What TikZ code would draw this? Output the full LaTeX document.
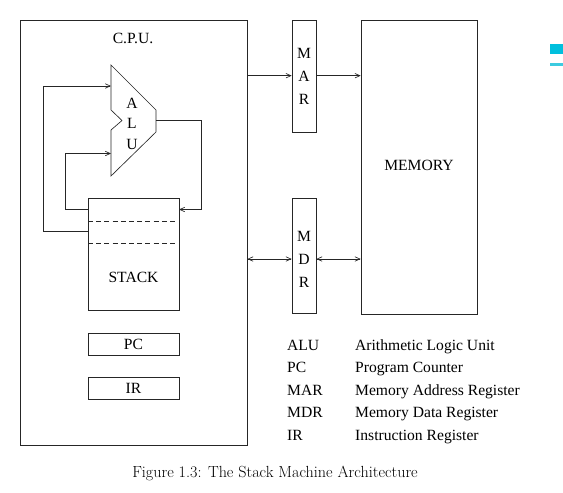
\documentclass[tikz,border=0pt]{standalone}
\usepackage{fontspec}
\setmainfont{Liberation Serif}
\newfontfamily\capfont{Latin Modern Roman}
\usetikzlibrary{arrows.meta}
\definecolor{cyanmark}{HTML}{00BFDD}
\definecolor{cyanline}{HTML}{3CCBE0}
\begin{document}
\begin{tikzpicture}[x=1pt,y=-1pt,
  every node/.style={font=\fontsize{15.6}{18}\selectfont},
  box/.style={draw=black!85,line width=0.65pt,inner sep=0pt,rectangle},
  wire/.style={draw=black!85,line width=0.65pt},
  arr/.style={wire,-{Straight Barb[length=5pt,width=4.5pt]}},
  barr/.style={wire,{Straight Barb[length=5pt,width=4.5pt]}-{Straight Barb[length=5pt,width=4.5pt]}},
  lbl/.style={inner sep=0pt,anchor=base west}]
\useasboundingbox (0,0) rectangle (563,493);
% CPU
\node[box,minimum width=227pt,minimum height=425pt] (cpu) at (133.5,232.5) {};
\node (cpulbl) at (133,38) {C.P.U.};
% ALU
\coordinate (a1) at (111,65);
\coordinate (a2) at (111,110);
\coordinate (a3) at (122,120.5);
\coordinate (a4) at (111,130);
\coordinate (a5) at (111,176);
\coordinate (a6) at (156,132);
\coordinate (a7) at (156,110);
\draw[wire] (a1) -- (a2) -- (a3) -- (a4) -- (a5) -- (a6) -- (a7) -- cycle;
\node (la) at (132,103) {A};
\node (ll) at (132,123) {L};
\node (lu) at (132,144) {U};
\coordinate (ain1) at (111,86);
\coordinate (ain2) at (111,153.5);
\coordinate (aout) at (156,120.5);
% STACK
\node[box,minimum width=91pt,minimum height=112.5pt] (stack) at (133.5,254.5) {};
\draw[wire,dashed,dash pattern=on 5pt off 3.2pt] (88,221.3) -- (175,221.3);
\draw[wire,dashed,dash pattern=on 5pt off 3.2pt] (88,243.3) -- (175,243.3);
\node (stacklbl) at (133.5,277) {STACK};
\coordinate (s1) at (88,231.7);
\coordinate (s2) at (88,209.5);
\coordinate (s3) at (179,209.5);
\draw[arr] (s1) -- (43,231.7) |- (ain1);
\draw[arr] (s2) -- (65.7,209.5) |- (ain2);
\draw[arr] (aout) -- (201.3,120.5) |- (s3);
% PC, IR
\node[box,minimum width=91pt,minimum height=22.5pt] (pc) at (133.5,344.5) {PC};
\node[box,minimum width=91pt,minimum height=22.5pt] (ir) at (133.5,388.5) {IR};
% MAR, MDR, MEMORY
\node[box,minimum width=24pt,minimum height=112pt] (mar) at (304,76) {};
\node (m1) at (304,53.5) {M};
\node (m2) at (304,76) {A};
\node (m3) at (304,99.5) {R};
\node[box,minimum width=24pt,minimum height=115pt] (mdr) at (304,256) {};
\node (d1) at (304,236.5) {M};
\node (d2) at (304,259) {D};
\node (d3) at (304,282) {R};
\node[box,minimum width=116pt,minimum height=294pt] (mem) at (419,167) {};
\node (memlbl) at (419,165) {MEMORY};
\draw[arr] (cpu.east |- 0,75.7) -- (mar.west |- 0,75.7);
\draw[arr] (mar.east |- 0,75.7) -- (mem.west |- 0,75.7);
\draw[barr] (cpu.east |- 0,259) -- (mdr.west |- 0,259);
\draw[barr] (mdr.east |- 0,259) -- (mem.west |- 0,259);
% legend
\node[lbl] (k1) at (287,350) {ALU};
\node[lbl] (v1) at (355,350) {Arithmetic Logic Unit};
\node[lbl] (k2) at (287,372.5) {PC};
\node[lbl] (v2) at (355,372.5) {Program Counter};
\node[lbl] (k3) at (287,395) {MAR};
\node[lbl] (v3) at (355,395) {Memory Address Register};
\node[lbl] (k4) at (287,417.5) {MDR};
\node[lbl] (v4) at (355,417.5) {Memory Data Register};
\node[lbl] (k5) at (287,440) {IR};
\node[lbl] (v5) at (355,440) {Instruction Register};
% caption
\node (cap) at (275,473.5) {\capfont\fontsize{16.1}{19}\selectfont Figure 1.3: The Stack Machine Architecture};
% cyan marks
\fill[cyanmark] (550,44) rectangle (563,54);
\fill[cyanline] (550,63) rectangle (563,65.7);
\end{tikzpicture}
\end{document}
